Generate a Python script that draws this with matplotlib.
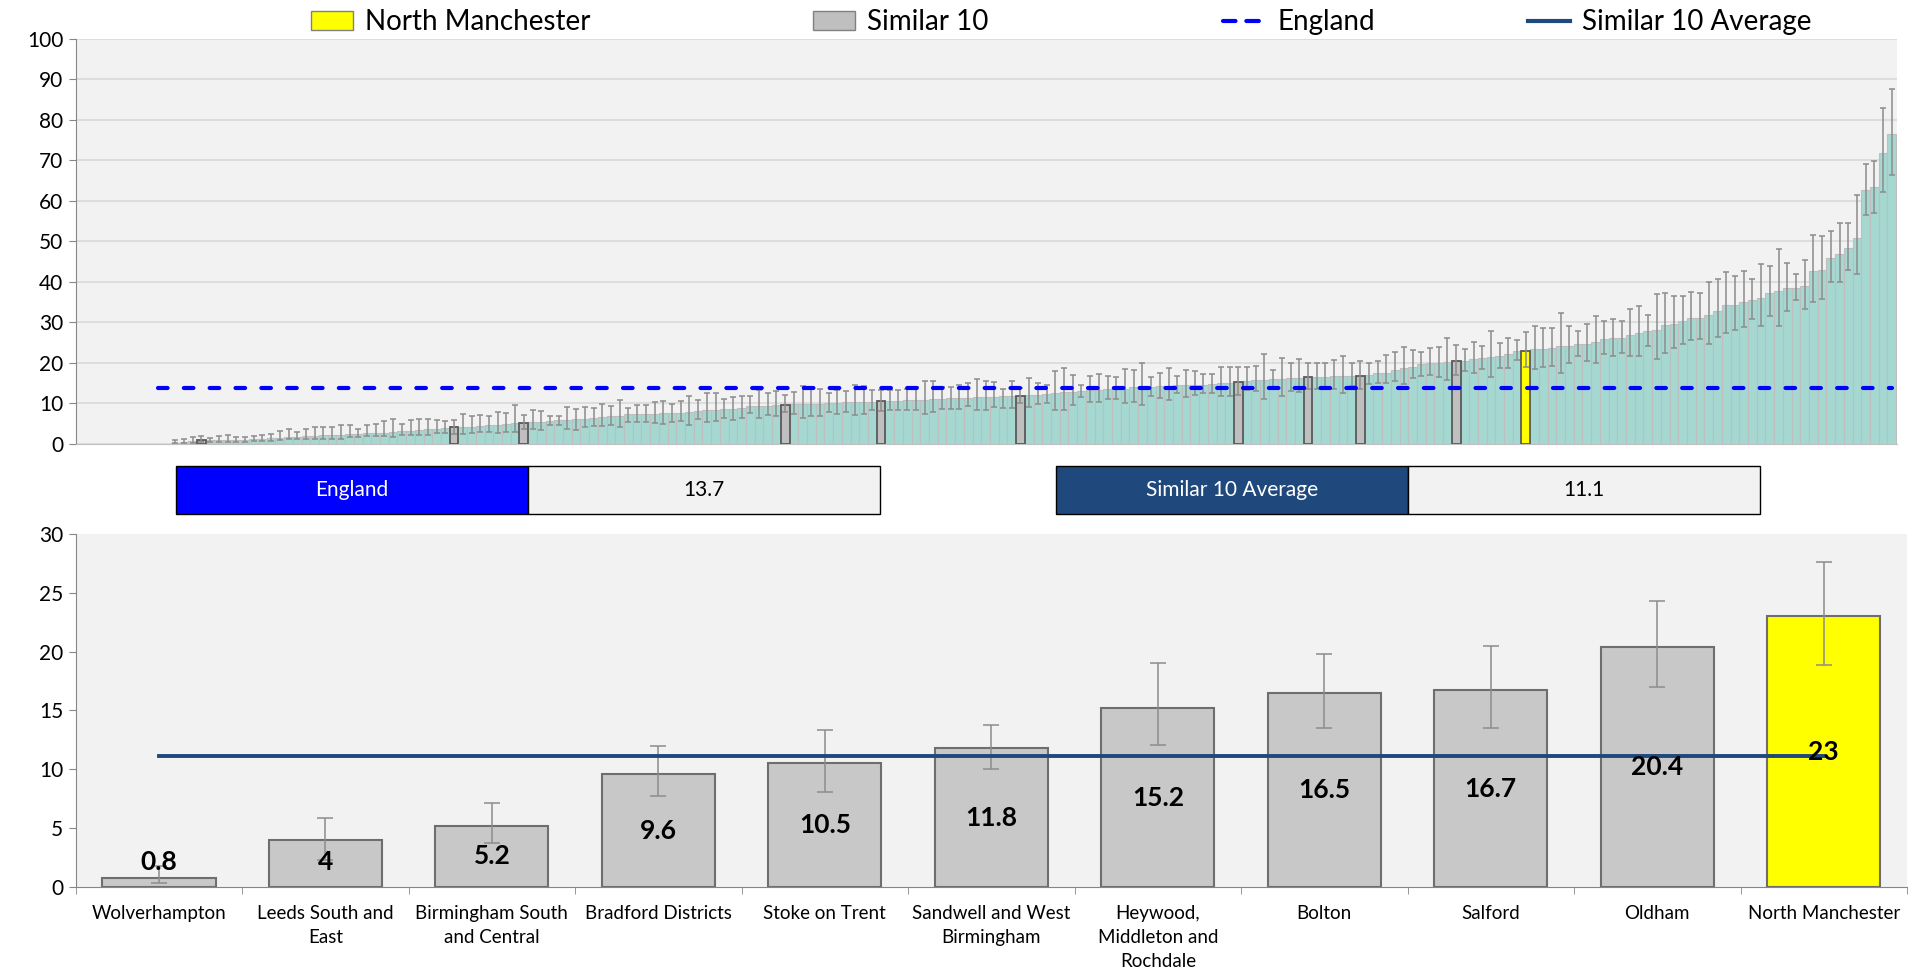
import matplotlib
matplotlib.use('Agg')
import matplotlib.pyplot as plt
from matplotlib.patches import Rectangle, Patch
from matplotlib.lines import Line2D
import numpy as np

plt.rcParams['font.family'] = ['Lato', 'DejaVu Sans']

# Alle CCG-verdier, sortert stigende (rate med konfidensintervall)
top_values = [
    0.2, 0.4, 0.6, 0.8, 0.8, 0.9, 0.9, 1.0, 1.0, 1.1, 1.2, 1.3,
    1.5, 1.6, 1.7, 1.8, 1.9, 2.0, 2.0, 2.1, 2.3, 2.4, 2.5, 2.6, 2.7, 2.8, 3.0, 3.1, 3.3, 3.5, 3.6, 3.8,
    4.0, 4.1, 4.2, 4.3, 4.5, 4.6, 4.8, 5.0,
    5.2, 5.3, 5.4, 5.5, 5.8, 5.9, 6.0, 6.2,
    6.4, 6.5, 6.7, 6.8, 7.2, 7.3, 7.4, 7.4, 7.5, 7.6, 7.6, 7.8, 8.1, 8.2, 8.3, 8.5, 8.6, 8.7,
    9.3, 9.4, 9.4, 9.5, 9.6, 9.7, 9.7, 9.7, 9.8, 10.0, 10.1, 10.2, 10.3, 10.3, 10.4,
    10.5, 10.6, 10.6, 10.7, 10.8, 10.8, 11.0, 11.1, 11.2, 11.2, 11.3, 11.5, 11.5, 11.6, 11.7, 11.7,
    11.8, 12.0, 12.1, 12.3, 12.4, 12.7, 12.8, 13.1, 13.2, 13.3, 13.4, 13.5, 13.5, 13.9, 14.0,
    14.1, 14.2, 14.3, 14.4, 14.5, 14.6, 14.6, 14.7, 14.9, 15.0,
    15.2, 15.5, 15.6, 15.8, 15.9, 16.0, 16.1, 16.2,
    16.5, 16.5, 16.5, 16.6, 16.6, 16.6,
    16.7, 16.9, 17.4, 17.5, 18.2, 18.7, 18.9, 19.6, 19.8, 19.9, 20.2,
    20.4, 20.5, 21.0, 21.1, 21.5, 21.6, 22.2, 23.0,
    23.0, 23.3, 23.4, 23.6, 24.0, 24.2, 24.5, 24.7, 25.1, 25.8, 26.0,
    26.1, 26.9, 27.4, 27.8, 28.0, 29.2, 29.5, 30.3, 31.0, 31.1,
    31.7, 32.8, 34.2, 34.2, 35.1, 35.4, 36.1, 37.2, 37.6, 38.4,
    38.5, 39.0, 42.6, 42.9, 45.9, 46.9, 48.4, 50.9, 62.8, 63.4, 71.9, 76.5]

top_lower = [
    0.05, 0.1, 0.2, 0.3, 0.3, 0.4, 0.4, 0.5, 0.5, 0.6, 0.7, 0.7,
    0.8, 1.1, 1.1, 1.1, 1.1, 1.1, 1.1, 1.1, 1.6, 1.6, 1.8, 1.9, 1.9, 1.6, 2.1, 2.1, 2.1, 2.1, 2.5, 2.5,
    2.3, 2.3, 2.5, 2.9, 2.8, 2.5, 2.8, 2.9,
    3.7, 3.5, 3.3, 4.5, 4.5, 3.5, 3.3, 4.0,
    4.3, 4.3, 4.6, 4.1, 5.3, 5.3, 5.3, 5.1, 4.9, 5.3, 5.6, 4.6, 6.1, 5.4, 5.6, 6.4, 5.9, 6.3,
    7.6, 6.4, 7.1, 6.9, 7.7, 7.3, 6.3, 6.9, 6.8, 7.9, 7.4, 7.8, 7.1, 7.3, 8.4,
    8.1, 8.4, 8.4, 8.3, 8.4, 7.3, 7.8, 8.6, 8.6, 8.6, 9.3, 8.3, 8.3, 9.0, 8.8, 8.8,
    10.0, 9.0, 9.8, 10.0, 8.4, 8.2, 9.5, 11.5, 10.2, 10.4, 11.0, 11.1, 10.1, 10.3, 9.5,
    11.8, 11.3, 10.7, 12.4, 11.5, 12.1, 12.6, 12.6, 11.7, 11.7,
    12.1, 13.2, 12.9, 11.1, 14.0, 11.8, 13.1, 12.8,
    13.5, 13.5, 13.9, 13.6, 12.6, 14.2,
    13.5, 14.7, 15.0, 15.0, 15.4, 14.8, 16.2, 16.7, 16.9, 16.5, 15.6,
    17.0, 18.0, 17.4, 18.4, 16.5, 18.7, 18.7, 20.7,
    18.9, 18.5, 18.9, 19.3, 17.5, 20.0, 21.7, 20.5, 19.8, 22.1, 21.7,
    22.5, 21.7, 21.7, 24.0, 21.0, 22.5, 23.6, 24.6, 25.5, 25.8,
    24.6, 26.3, 27.4, 28.1, 28.8, 30.9, 29.1, 31.6, 29.1, 32.8,
    35.4, 33.3, 34.9, 35.8, 40.0, 40.0, 42.8, 41.8, 56.6, 57.1, 62.1, 66.4]

top_upper = [
    0.9, 1.2, 1.6, 1.8, 1.5, 1.9, 2.2, 1.6, 1.6, 1.8, 2.1, 2.3,
    3.1, 3.6, 2.9, 3.7, 4.0, 4.0, 4.1, 4.7, 4.5, 3.6, 4.7, 4.9, 5.6, 6.2, 4.9, 5.8, 6.2, 6.2, 5.8, 5.6,
    5.9, 7.2, 6.8, 7.0, 6.8, 7.8, 7.5, 9.5,
    7.1, 8.4, 8.1, 6.8, 6.8, 9.1, 8.6, 9.1,
    8.8, 9.7, 9.2, 10.7, 8.8, 9.6, 9.6, 10.3, 10.5, 9.9, 10.5, 11.7, 10.7, 12.4, 12.6, 11.1, 11.6, 11.7,
    11.7, 13.2, 12.6, 13.1, 12.0, 12.7, 14.2, 13.8, 13.6, 12.6, 13.2, 12.9, 14.4, 14.2, 13.2,
    13.3, 13.2, 13.2, 13.5, 13.9, 15.4, 15.4, 13.9, 13.9, 14.4, 14.9, 15.9, 15.5, 15.2, 13.5, 15.5,
    13.8, 16.1, 14.9, 14.6, 17.9, 18.6, 16.9, 14.6, 16.7, 17.1, 16.7, 16.5, 18.5, 18.2, 20.0,
    16.4, 17.5, 18.6, 16.7, 18.2, 18.0, 17.3, 17.3, 19.0, 19.0,
    19.0, 19.0, 19.3, 22.2, 18.2, 21.1, 19.8, 20.9,
    19.8, 20.0, 20.0, 20.6, 21.7, 20.0,
    20.5, 19.8, 20.5, 21.8, 22.6, 23.9, 23.2, 22.6, 23.7, 23.8, 26.2,
    24.3, 23.3, 25.2, 24.1, 27.8, 24.8, 26.1, 25.6,
    27.6, 29.1, 28.6, 28.6, 32.2, 29.1, 27.8, 29.5, 31.5, 30.3, 30.7,
    30.3, 33.2, 34.1, 31.9, 37.0, 37.2, 36.4, 36.5, 37.4, 37.2,
    40.0, 40.6, 42.3, 41.5, 42.6, 40.6, 44.3, 43.8, 48.1, 44.6,
    41.8, 45.4, 51.5, 51.2, 52.5, 54.5, 54.5, 61.4, 69.2, 69.9, 83.0, 87.7]

# Plassering (rang) for Similar 10 og North Manchester i den sorterte lista
similar_rank = [3, 32, 40, 70, 81, 97, 122, 130, 136, 147]
nm_rank = 155

england = 13.7
similar_avg = 11.1

names = ['Wolverhampton', 'Leeds South and\nEast', 'Birmingham South\nand Central', 'Bradford Districts',
         'Stoke on Trent', 'Sandwell and West\nBirmingham', 'Heywood,\nMiddleton and\nRochdale',
         'Bolton', 'Salford', 'Oldham', 'North Manchester']
values = [0.8, 4.0, 5.2, 9.6, 10.5, 11.8, 15.2, 16.5, 16.7, 20.4, 23.0]
labels = ['0.8', '4', '5.2', '9.6', '10.5', '11.8', '15.2', '16.5', '16.7', '20.4', '23']
lower = [0.3, 2.3, 3.7, 7.7, 8.1, 10.0, 12.1, 13.5, 13.5, 17.0, 18.9]
upper = [1.8, 5.9, 7.1, 12.0, 13.3, 13.8, 19.0, 19.8, 20.5, 24.3, 27.6]

top_values = np.array(top_values)
top_lower = np.array(top_lower)
top_upper = np.array(top_upper)
n = len(top_values)
x = np.arange(n)

fig = plt.figure(figsize=(19.11, 9.73), dpi=100)

# Øverste graf: alle CCG-er
ax1 = fig.add_axes([0.0396, 0.5441, 0.9531, 0.4158])
ax1.set_facecolor('#F2F2F2')
ax1.bar(x, top_values, width=1.0, color='#A6D8D2', edgecolor='#BEBEBE', linewidth=0.8, zorder=2)
sim_vals = [top_values[i] for i in similar_rank]
ax1.bar(similar_rank, sim_vals, width=1.0, color='#BFBFBF', edgecolor='#5A5A5A', linewidth=1.3, zorder=3)
ax1.bar([nm_rank], [top_values[nm_rank]], width=1.0, color='#FFFF00', edgecolor='#5A5A5A', linewidth=1.3, zorder=3)
ax1.errorbar(x, top_values, yerr=[top_values - top_lower, top_upper - top_values], fmt='none',
             ecolor='#8C8C8C', elinewidth=1.1, capsize=2.4, capthick=1.1, zorder=4)
xe = np.arange(-2, n)
ax1.plot(xe, [england] * len(xe), color='#0000FF', linewidth=3.0, dashes=(2.3, 3.9),
         dash_capstyle='round', zorder=5)
ax1.set_xlim(-11.43, n - 0.4)
ax1.set_ylim(0, 100)
ax1.set_yticks(np.arange(0, 101, 10))
ax1.set_xticks([])
ax1.grid(axis='y', color='#D9D9D9', linewidth=1.2, zorder=0)
ax1.set_axisbelow(True)
for s in ['top', 'right']:
    ax1.spines[s].set_visible(False)
ax1.spines['left'].set_color('#868686')
ax1.spines['bottom'].set_color('#C0C0C0')
ax1.tick_params(axis='y', labelsize=15, color='#868686', length=5, pad=4)

# Nederste graf: Similar 10
ax2 = fig.add_axes([0.0396, 0.0884, 0.9583, 0.3628])
ax2.set_facecolor('#F2F2F2')
xs = np.arange(len(values))
values = np.array(values)
cols = ['#C8C8C8'] * (len(values) - 1) + ['#FFFF00']
ax2.bar(xs, values, width=0.68, color=cols, edgecolor='#6E6E6E', linewidth=1.5, zorder=2)
ax2.errorbar(xs, values, yerr=[values - np.array(lower), np.array(upper) - values], fmt='none',
             ecolor='#8C8C8C', elinewidth=1.1, capsize=5.8, capthick=1.1, zorder=3)
ax2.plot(xs, [similar_avg] * len(xs), color='#1F497D', linewidth=2.8, zorder=4)
for xi, v, lab in zip(xs, values, labels):
    ax2.text(xi, max(v / 2, 2.1), lab, ha='center', va='center', fontsize=19, fontweight='bold', zorder=5)
ax2.set_xlim(-0.5, len(values) - 0.5)
ax2.set_ylim(0, 30)
ax2.set_yticks(np.arange(0, 31, 5))
ax2.set_xticks(xs)
ax2.set_xticklabels(names, fontsize=13.5, linespacing=1.5)
ax2.set_xticks(np.arange(-0.5, len(values)), minor=True)
ax2.tick_params(axis='x', which='major', length=0, pad=13)
ax2.tick_params(axis='x', which='minor', length=5, color='#868686')
ax2.tick_params(axis='y', labelsize=15, color='#868686', length=5, pad=4)
for s in ['top', 'right']:
    ax2.spines[s].set_visible(False)
ax2.spines['left'].set_color('#868686')
ax2.spines['bottom'].set_color('#868686')

# Forklaring øverst
leg_items = [
    (Patch(facecolor='#FFFF00', edgecolor='#808080'), 'North Manchester', 0.1627),
    (Patch(facecolor='#BFBFBF', edgecolor='#808080'), 'Similar 10', 0.4255),
    (Line2D([], [], color='#0000FF', linewidth=3.0, dashes=(3.0, 2.6), dash_capstyle='round'), 'England', 0.640),
    (Line2D([], [], color='#1F497D', linewidth=3.0), 'Similar 10 Average', 0.7995),
]
for h, t, xpos in leg_items:
    lg = fig.legend([h], [t], loc='center left', bbox_to_anchor=(xpos, 0.977), frameon=False,
                    fontsize=20, handlelength=1.5, handleheight=0.7, handletextpad=0.45, borderpad=0,
                    borderaxespad=0)

# Tabellbokser
boxes = [('England', england, '#0000FF', 175.5), ('Similar 10 Average', similar_avg, '#1F497D', 1055.5)]
W, H = 1911.0, 973.0
for title, val, col, x0 in boxes:
    bw = 352.2
    y0 = 1 - 514.3 / H
    bh = (514.3 - 465.6) / H
    fig.add_artist(Rectangle((x0 / W, y0), bw / W, bh, transform=fig.transFigure,
                             facecolor=col, edgecolor='black', linewidth=1.0))
    fig.add_artist(Rectangle(((x0 + bw) / W, y0), bw / W, bh, transform=fig.transFigure,
                             facecolor='#F2F2F2', edgecolor='black', linewidth=1.0))
    fig.text((x0 + bw / 2) / W, y0 + bh / 2, title, color='white', fontsize=15, ha='center', va='center')
    fig.text((x0 + 1.5 * bw) / W, y0 + bh / 2, f'{val:.1f}', color='black', fontsize=15,
             ha='center', va='center')

fig.savefig('out.png', dpi=100)
